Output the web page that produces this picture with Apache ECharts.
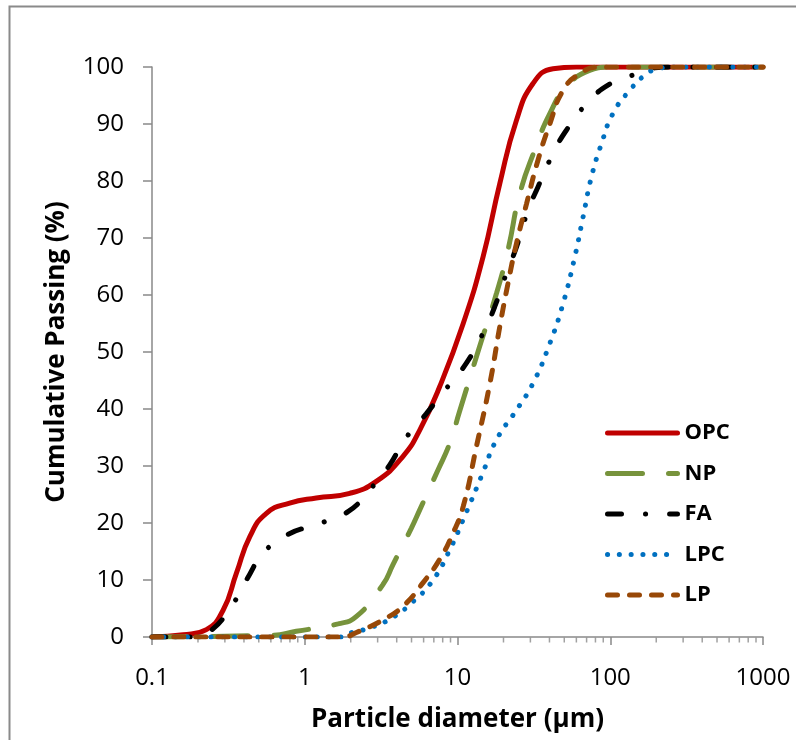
<!DOCTYPE html>
<html>
<head>
<meta charset="utf-8">
<script src="https://cdn.jsdelivr.net/npm/echarts@6/dist/echarts.min.js"></script>
<style>html,body{margin:0;padding:0;background:#fff}#c{width:796px;height:740px}</style>
</head>
<body>
<div id="c"></div>
<script>
// ---- data (particle diameter in µm, cumulative passing in %) ----
const seriesNames = ['OPC', 'NP', 'FA', 'LPC', 'LP'];
const xTickLabels = ['0.1', '1', '10', '100', '1000'];
const yTicks = [0, 10, 20, 30, 40, 50, 60, 70, 80, 90, 100];

const opcD = [0.1, 0.16, 0.227, 0.292, 0.357, 0.437, 0.561, 0.796, 1.19, 1.97, 2.94, 4.4, 5.66, 7.64, 10.9, 14.7, 18.9, 24.3, 31.2, 42.2, 60, 1000];
const opcP = [0, 0.4, 1.3, 4.7, 11.2, 17.6, 21.7, 23.5, 24.4, 25.2, 27.3, 31.7, 36.3, 43.9, 55.0, 66.7, 79.5, 90.6, 97.1, 99.7, 100, 100];

const npD = [0.1, 0.6, 0.88, 1.65, 2.18, 3.25, 3.78, 4.99, 5.66, 7.45, 8.9, 10.3, 13.6, 18.0, 21.4, 25.6, 32.0, 40.2, 51.6, 73.3, 100, 1000];
const npP = [0, 0.3, 1.0, 2.3, 3.6, 9.2, 12.7, 19.1, 22.3, 29.3, 34.0, 39.5, 50.0, 60.3, 67.9, 77.8, 85.4, 91.8, 96.5, 99.4, 100, 100];

const faD = [0.1, 0.18, 0.239, 0.331, 0.415, 0.547, 0.777, 1.25, 1.92, 2.66, 3.6, 4.5, 6.25, 8.45, 11.4, 14.7, 17.5, 20.9, 24.3, 29.0, 33.7, 42.2, 51.6, 69.8, 99, 148, 181, 250, 1000];
const faP = [0, 0, 1.0, 5.4, 10.0, 15.0, 18.0, 19.9, 22.0, 25.8, 30.2, 34.6, 39.2, 43.6, 48.0, 53.3, 57.9, 63.8, 68.4, 74.9, 79.0, 84.8, 88.9, 93.5, 97.0, 98.8, 99.7, 100, 100];

const lpcD = [0.1, 1.75, 1.88, 2.66, 3.69, 5.12, 6.92, 8.9, 11.1, 14.5, 18.0, 24.3, 31.2, 40.2, 49.1, 58.5, 66.4, 75.3, 87.5, 104, 134, 173, 206, 260, 1000];
const lpcP = [0, 0, 0.5, 1.6, 3.3, 6.2, 10.0, 15.3, 21.1, 28.5, 34.6, 39.8, 44.5, 51.5, 58.5, 66.6, 73.7, 80.7, 86.5, 91.8, 95.9, 98.8, 99.7, 100, 100];

const lpD = [0.1, 1.78, 2.18, 3.25, 4.4, 5.94, 7.64, 9.34, 10.9, 13.3, 16.3, 18.9, 21.4, 24.3, 28.3, 33.6, 40.2, 49.1, 63, 85, 1000];
const lpP = [0, 0, 0.8, 3.0, 5.4, 9.5, 13.6, 18.2, 22.9, 33.4, 44.5, 54.4, 62.0, 69.0, 76.0, 83.6, 90.0, 95.9, 98.8, 100, 100];

const minorTickD = [0.2,0.3,0.4,0.5,0.6,0.7,0.8,0.9, 2,3,4,5,6,7,8,9, 20,30,40,50,60,70,80,90, 200,300,400,500,600,700,800,900];

// ---- chart ----
const FONT = '"Open Sans", "Noto Sans", sans-serif';
const AXIS_COLOR = '#898989';
const zip = (a, b) => a.map((v, i) => [v, b[i]]);

function lineSeries(name, d, p, color, width, type, cap) {
  return {
    name, type: 'line', data: zip(d, p),
    showSymbol: false, symbol: 'none',
    smooth: 0.5,
    lineStyle: { color, width, type, cap: cap || 'butt' },
    itemStyle: { color },
    z: 3
  };
}

const chart = echarts.init(document.getElementById('c'), null, { renderer: 'canvas' });
chart.setOption({
  animation: false,
  backgroundColor: '#fff',
  textStyle: { fontFamily: FONT },
  grid: { left: 152, right: 33, top: 67, bottom: 103, containLabel: false },
  xAxis: {
    type: 'log', logBase: 10, min: 0.1, max: 1000, splitNumber: 4,
    name: 'Particle diameter (µm)', nameLocation: 'middle', nameGap: 70,
    nameTextStyle: { fontFamily: FONT, fontSize: 26, fontWeight: 'bold', color: '#000' },
    axisLine: { show: true, onZero: false, lineStyle: { color: AXIS_COLOR, width: 1.5 } },
    axisTick: { show: true, inside: false, length: 8, lineStyle: { color: AXIS_COLOR, width: 1.5 } },
    axisLabel: {
      fontFamily: FONT, fontSize: 24, color: '#000', margin: 29,
      formatter: v => { const s = String(+(+v).toPrecision(3)); return xTickLabels.includes(s) ? s : ''; }
    },
    splitLine: { show: false }
  },
  yAxis: {
    type: 'value', min: 0, max: 100, interval: 10,
    name: 'Cumulative Passing (%)', nameLocation: 'middle', nameGap: 82,
    nameTextStyle: { fontFamily: FONT, fontSize: 26, fontWeight: 'bold', color: '#000' },
    axisLine: { show: true, lineStyle: { color: AXIS_COLOR, width: 1.5 } },
    axisTick: { show: true, inside: false, length: 9, lineStyle: { color: AXIS_COLOR, width: 1.5 } },
    axisLabel: { fontFamily: FONT, fontSize: 24, color: '#000', margin: 28,
      formatter: v => yTicks.includes(v) ? String(v) : '' },
    splitLine: { show: false }
  },
  legend: {
    data: seriesNames,
    orient: 'vertical', left: 600, top: 417,
    itemWidth: 70, itemHeight: 14, itemGap: 18.5,
    itemStyle: { opacity: 0 },
    lineStyle: { width: 5 },
    textStyle: { fontFamily: FONT, fontSize: 22, fontWeight: 'bold', color: '#000', padding: [0, 0, 0, 2] },
    selectedMode: false
  },
  graphic: [{
    type: 'rect', silent: true, z: -1,
    shape: { x: 9.5, y: 6.5, width: 900, height: 900 },
    style: { fill: 'none', stroke: '#8a8a8a', lineWidth: 2 }
  }],
  series: [
    lineSeries('OPC', opcD, opcP, '#C00000', 5, 'solid', 'round'),
    lineSeries('NP', npD, npP, '#77933C', 5, [35, 26], 'round'),
    lineSeries('FA', faD, faP, '#000000', 5, [14, 24, 0.1, 24], 'round'),
    lineSeries('LPC', lpcD, lpcP, '#0070C0', 5, [0.1, 11.7], 'round'),
    lineSeries('LP', lpD, lpP, '#984807', 5, [10, 12], 'round'),
    {
      name: 'minorTicks', type: 'scatter', silent: true,
      data: minorTickD.map(d => [d, 0]),
      symbol: 'rect', symbolSize: [1.5, 5], symbolOffset: [0, 3],
      itemStyle: { color: AXIS_COLOR }, clip: false, z: 1
    }
  ]
});
</script>
</body>
</html>
